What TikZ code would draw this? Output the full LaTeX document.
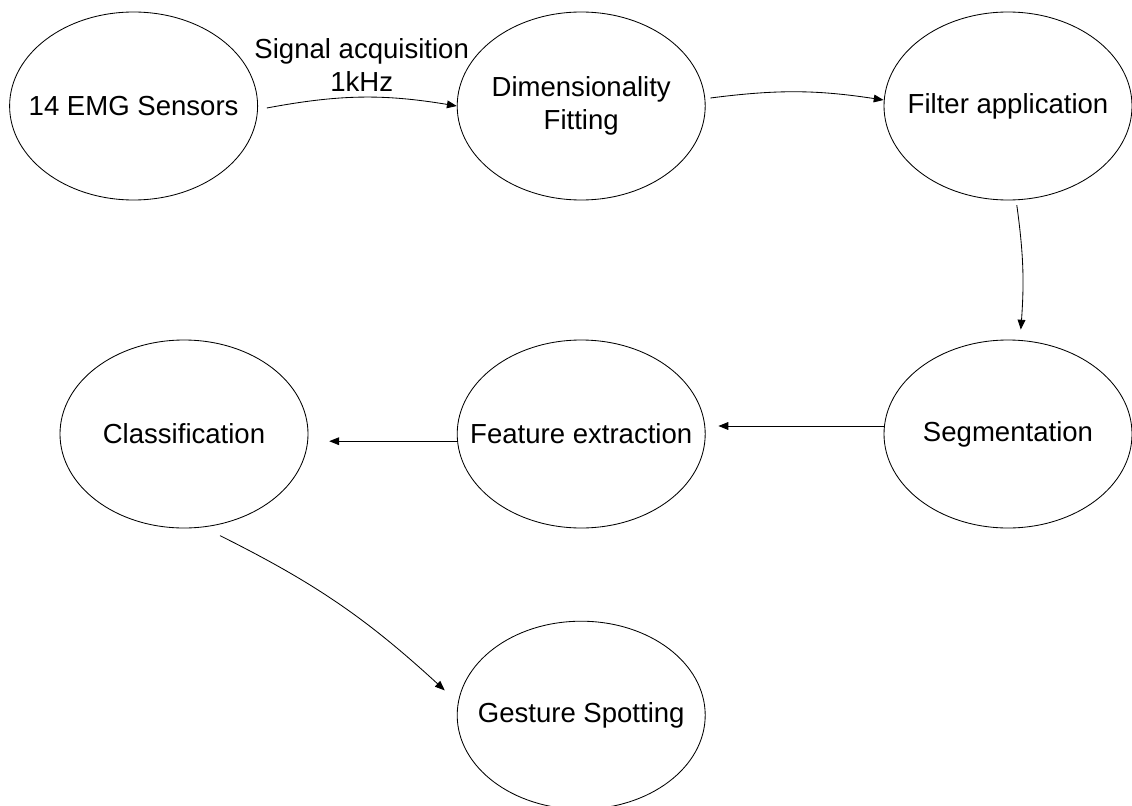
\documentclass[tikz,border=0pt]{standalone}
\usepackage{fontspec}
\setmainfont{Liberation Sans}
\usepackage{tikz}
\usetikzlibrary{shapes.geometric,arrows.meta}
\definecolor{lineColor}{RGB}{0, 0, 0}
\definecolor{textColor}{RGB}{0, 0, 0}

\tikzset{
    stage/.style={ellipse, draw=lineColor, line width=0.6pt,
        minimum width=6.2cm, minimum height=4.7cm,
        inner xsep=-1.5cm, inner ysep=0pt, align=center,
        text=textColor, font=\fontsize{19.6}{23.5}\selectfont},
    link/.style={draw=lineColor, line width=0.6pt,
        -{Triangle[length=7pt,width=5.5pt]}},
    linkLabel/.style={align=center, text=textColor,
        font=\fontsize{19.6}{23.5}\selectfont}
}

\begin{document}
\begin{tikzpicture}
            \useasboundingbox (0,0) rectangle (28.3,-20.125);

            % Top row
            \node[stage] (emg) at (3.34,-2.65) {14 EMG Sensors};
            \node[stage] (dim) at (14.53,-2.65) {Dimensionality\\Fitting};
            \node[stage] (filter) at (25.2,-2.65) {Filter application};

            % Middle row
            \node[stage] (seg) at (25.2,-10.85) {Segmentation};
            \node[stage] (feat) at (14.53,-10.85) {Feature extraction};
            \node[stage] (cls) at (4.6,-10.85) {Classification};

            % Bottom
            \node[stage] (gest) at (14.53,-17.88) {Gesture Spotting};

            % Processing chain
            \draw[link] ([xshift=0.22cm,yshift=-0.05cm]emg.east) to[bend left=10]
                node[linkLabel, midway, above=0.02cm] {Signal acquisition\\1kHz} (dim.west);
            \draw[link] ([xshift=0.12cm,yshift=0.2cm]dim.east) to[bend left=8] ([yshift=0.15cm]filter.west);
            \draw[link] ([xshift=0.22cm,yshift=-0.12cm]filter.south) to[bend left=6] ([xshift=0.32cm,yshift=0.25cm]seg.north);
            \draw[link] ([yshift=0.2cm]seg.west) -- ([xshift=0.32cm,yshift=0.2cm]feat.east);
            \draw[link] ([yshift=-0.18cm]feat.west) -- ([xshift=0.52cm,yshift=-0.18cm]cls.east);
            \draw[link] ([xshift=0.9cm,yshift=-0.18cm]cls.south) to[bend left=8] ([xshift=-0.3cm,yshift=0.62cm]gest.west);
        \end{tikzpicture}
\end{document}
